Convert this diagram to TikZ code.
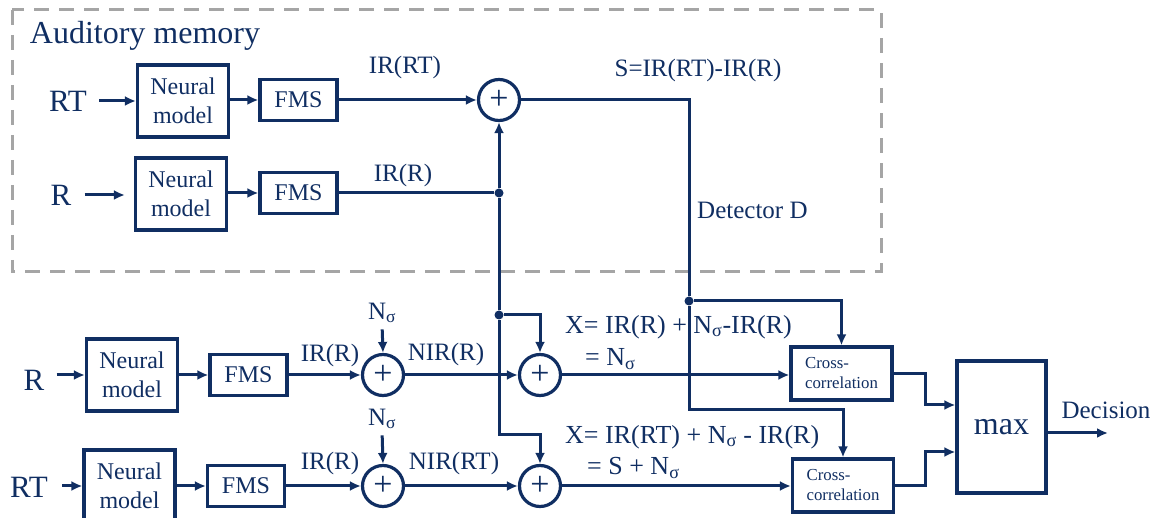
\documentclass[tikz,border=0pt]{standalone}
\usepackage{fontspec}
\setmainfont{Liberation Serif}
\usetikzlibrary{arrows.meta,calc}
\definecolor{nb}{RGB}{16,46,98}
\definecolor{dg}{RGB}{165,165,165}
\begin{document}
\begin{tikzpicture}[x=1pt,y=-1pt,
  blk/.style={draw=nb, line width=3.2pt, text=nb, align=center, inner sep=0pt},
  nm/.style={blk, minimum width=91pt, minimum height=72pt, font=\fontsize{24}{29}\selectfont},
  fms/.style={blk, minimum width=77pt, minimum height=41pt, font=\fontsize{24}{26}\selectfont},
  cc/.style={blk, minimum width=101pt, minimum height=53pt, font=\fontsize{16.8}{20}\selectfont, align=left},
  mxbox/.style={blk, minimum width=89pt, minimum height=132pt, font=\fontsize{32}{34}\selectfont},
  sumn/.style={circle, draw=nb, line width=3.2pt, minimum size=41pt, inner sep=0pt, text=nb, font=\fontsize{34}{34}\selectfont},
  lbl/.style={text=nb, inner sep=0pt, font=\fontsize{25}{28}\selectfont},
  xlbl/.style={text=nb, inner sep=0pt, anchor=west, font=\fontsize{26}{28}\selectfont},
  inlbl/.style={text=nb, inner sep=0pt, font=\fontsize{31}{32}\selectfont},
  conn/.style={draw=nb, line width=3pt},
  arr/.style={conn, -{Latex[length=11pt,width=10pt]}},
  dotn/.style={circle, fill=nb, inner sep=0pt, minimum size=9pt},
]
\useasboundingbox (0,0) rectangle (1163,518);
\clip (0,0) rectangle (1163,518);

% auditory memory frame
\draw[dg, line width=3pt, dash pattern=on 15pt off 10pt] (12,10) rectangle (881,272);
\node[text=nb, inner sep=0pt, font=\fontsize{32}{34}\selectfont] (title) at (145,35.5) {Auditory memory};

% upper rows (memory)
\node[inlbl] (rt1) at (68,101) {RT};
\node[nm] (nm1) at (183,101) {Neural\\model};
\node[fms] (fms1) at (298.5,100) {FMS};
\node[sumn] (s1) at (499,100) {+};
\node[lbl] (lirt) at (405,67) {IR(RT)};
\node[lbl] (ls) at (698,70) {S=IR(RT)-IR(R)};
\coordinate (c1) at (689,100);

\node[inlbl] (r1) at (61,195) {R};
\node[nm] (nm2) at (181,194) {Neural\\model};
\node[fms] (fms2) at (298.5,193) {FMS};
\node[lbl] (lir1) at (403,175) {IR(R)};
\node[dotn] (j1) at (499,193) {};
\node[lbl, anchor=west] (ldet) at (697,210) {Detector D};

\draw[arr, shorten <=12pt] (rt1.east) -- (rt1.east -| nm1.west);
\draw[arr] (nm1.east |- fms1.west) -- (fms1.west);
\draw[arr] (fms1.east) -- (s1.west);
\draw[arr, shorten <=13pt, shorten >=9pt] (r1.east) -- (r1.east -| nm2.west);
\draw[arr] (nm2.east |- fms2.west) -- (fms2.west);
\draw[conn] (fms2.east) -- (j1);
\draw[arr] (j1) -- (s1.south);

% lower rows
\node[inlbl] (r2) at (34,380) {R};
\node[nm] (nm3) at (132,375) {Neural\\model};
\node[fms] (fms3) at (248.5,375) {FMS};
\node[lbl] (lir2) at (330,355) {IR(R)};
\node[sumn] (sa) at (383,375) {+};
\node[lbl] (na) at (382,313) {N\textsubscript{σ}};
\node[lbl] (lnir) at (446,354) {NIR(R)};
\node[dotn] (j2) at (499,315) {};
\node[sumn] (sb) at (540,375) {+};
\node[xlbl] (lx1) at (565,327) {X= IR(R) + N\textsubscript{σ}-IR(R)};
\node[xlbl] (lx1b) at (585,359) {= N\textsubscript{σ}};
\node[dotn] (d2) at (689,301) {};
\node[cc] (cc1) at (841.5,373.5) {Cross-\\correlation};

\node[inlbl] (rt2) at (29,487) {RT};
\node[nm] (nm4) at (129.5,486) {Neural\\model};
\node[fms] (fms4) at (246,486) {FMS};
\node[lbl] (lir3) at (330,463) {IR(R)};
\node[sumn] (sc) at (383,486) {+};
\node[lbl] (nc) at (382,419) {N\textsubscript{σ}};
\node[lbl] (lnirt) at (454,463) {NIR(RT)};
\node[sumn] (sd) at (540,486) {+};
\node[xlbl] (lx2) at (565,437) {X= IR(RT) + N\textsubscript{σ} - IR(R)};
\node[xlbl] (lx2b) at (587,468) {= S + N\textsubscript{σ}};
\node[cc] (cc2) at (843,485.5) {Cross-\\correlation};

\node[mxbox] (mx) at (1001.5,427) {max};
\node[lbl] (ldec) at (1106,410) {Decision};
\coordinate (dec) at (1108,433);
\coordinate (c2) at (689,410);
\coordinate (c3) at (499,435);

% detector path
\draw[conn] (s1.east) -- (c1) -- (d2);
\draw[arr] (d2) -| (cc1.north);
\draw[arr] (d2) -- (c2) -| (cc2.north);

% IR(R) distribution
\draw[conn] (j1) -- (j2);
\draw[arr] (j2) -| (sb.north);
\draw[arr] (j2) -- (c3) -| (sd.north);

% row A
\draw[arr, shorten <=12pt] (r2.east |- nm3.west) -- (nm3.west);
\draw[arr] (nm3.east) -- (fms3.west);
\draw[arr] (fms3.east) -- (sa.west);
\draw[arr, shorten <=6pt] (na.south) -- (sa.north);
\draw[arr] (sa.east) -- (sb.west);
\draw[arr] (sb.east) -- (sb.east -| cc1.west);

% row B
\draw[arr, shorten <=14pt] (rt2.east |- nm4.west) -- (nm4.west);
\draw[arr] (nm4.east) -- (fms4.west);
\draw[arr] (fms4.east) -- (sc.west);
\draw[arr, shorten <=6pt] (nc.south) -- (sc.north);
\draw[arr] (sc.east) -- (sd.west);
\draw[arr] (sd.east) -- (sd.east -| cc2.west);

% to max
\draw[arr] (cc1.east) -- ++(32,0) |- ($(mx.west)+(0,-22)$);
\draw[arr] (cc2.east) -- ++(30,0) |- ($(mx.west)+(0,25)$);
\draw[arr] (mx.east |- dec) -- (dec);
\end{tikzpicture}
\end{document}
